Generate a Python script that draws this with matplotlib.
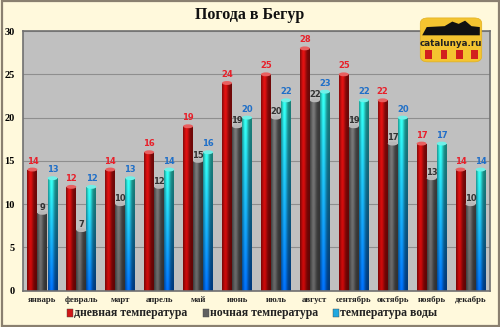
import numpy as np
import matplotlib
matplotlib.use("Agg")
import matplotlib.pyplot as plt
from matplotlib.patches import Rectangle, FancyBboxPatch, Ellipse, Polygon

months = ["январь", "февраль", "март", "апрель", "май", "июнь", "июль",
          "август", "сентябрь", "октябрь", "ноябрь", "декабрь"]
day_temp = [14, 12, 14, 16, 19, 24, 25, 28, 25, 22, 17, 14]
night_temp = [9, 7, 10, 12, 15, 19, 20, 22, 19, 17, 13, 10]
water_temp = [13, 12, 13, 14, 16, 20, 22, 23, 22, 20, 17, 14]
series_names = ["дневная температура", "ночная температура", "температура воды"]
title = "Погода в Бегур"

SERIF = ["Liberation Serif", "DejaVu Serif"]
BG = "#FFF9DC"

fig = plt.figure(figsize=(5.0, 3.27), dpi=100, facecolor=BG)
# outer frame
fig.patches.append(Rectangle((0.003, 0.004), 0.994, 0.992, transform=fig.transFigure,
                             fill=False, ec="#8A8070", lw=1.6))

ax = fig.add_axes([0.046, 0.111, 0.934, 0.794])
ax.set_facecolor("#C0C0C0")
ax.set_ylim(0, 30)
ax.set_xlim(-0.5, 11.5)
ax.set_yticks(range(0, 31, 5))
ax.yaxis.grid(True, color="#8E8E8E", lw=0.8)
ax.set_axisbelow(True)
for s in ax.spines.values():
    s.set_color("#707070")
    s.set_linewidth(1.2)
ax.tick_params(length=0, pad=4)
ax.set_xticks(range(12))
ax.set_xticklabels(months, fontsize=6.3, fontweight="bold", family=SERIF, color="#222222")
for t in ax.get_yticklabels():
    t.set_fontsize(7.5); t.set_fontweight("bold"); t.set_family(SERIF)
ax.tick_params(axis="y", pad=6)

bw = 0.255
offsets = [-0.258, 0.0, 0.258]
x = np.arange(12)

def shade_profile(n=40):
    u = np.linspace(0, 1, n)
    # cylindrical lighting: bright just left of center, dark edges
    return 0.55 + 0.6 * np.exp(-((u - 0.35) / 0.28) ** 2)

def draw_bar(xc, h, top_rgb, bot_rgb, cap_rgb):
    x0 = xc - bw / 2
    rect = Rectangle((x0, 0), bw, h, fc="none", ec="none")
    ax.add_patch(rect)
    ny, nx = 60, 40
    t = np.linspace(1, 0, ny)[:, None, None]
    col = t * np.array(top_rgb) + (1 - t) * np.array(bot_rgb)
    prof = shade_profile(nx)[None, :, None]
    img = np.clip(col * prof, 0, 1)
    im = ax.imshow(img, extent=(x0, x0 + bw, 0, h), aspect="auto",
                   interpolation="bilinear", zorder=2)
    im.set_clip_path(rect)
    cap = Ellipse((xc, h), bw, 0.45, fc=cap_rgb, ec="none", zorder=3)
    ax.add_patch(cap)

def hx(c):
    c = c.lstrip("#")
    return [int(c[i:i + 2], 16) / 255 for i in (0, 2, 4)]

for i in range(12):
    draw_bar(x[i] + offsets[0], day_temp[i], hx("#C81010"), hx("#B00808"), hx("#E86060"))
    draw_bar(x[i] + offsets[1], night_temp[i], hx("#6A6A6A"), hx("#5A5A5A"), hx("#B8B8B8"))
    draw_bar(x[i] + offsets[2], water_temp[i], hx("#30E8D8"), hx("#0064E0"), hx("#70F0E8"))
    ax.text(x[i] + offsets[0], day_temp[i] + 0.45, str(day_temp[i]), ha="center", va="bottom",
            fontsize=6, fontweight="bold", color="#E8202A", zorder=5)
    ax.text(x[i] + offsets[1], night_temp[i] + 0.15, str(night_temp[i]), ha="center", va="bottom",
            fontsize=6, fontweight="bold", color="#333333", zorder=5)
    ax.text(x[i] + offsets[2], water_temp[i] + 0.45, str(water_temp[i]), ha="center", va="bottom",
            fontsize=6, fontweight="bold", color="#1F6FC8", zorder=5)

fig.text(0.5, 0.953, title, ha="center", va="center", fontsize=11.5,
         fontweight="bold", family=SERIF, color="#111111")

# legend
leg_y = 0.043
items = [(0.134, "#D01818"), (0.406, "#606060"), (0.666, "#20A8E0")]
for (lx, c), name in zip(items, series_names):
    fig.patches.append(Rectangle((lx, leg_y - 0.012), 0.012, 0.024, transform=fig.transFigure,
                                 fc=c, ec="#444444", lw=0.3))
    fig.text(lx + 0.014, leg_y, name, ha="left", va="center", fontsize=8.5,
             fontweight="bold", family=SERIF, color="#222222")

# catalunya.ru badge
lax = fig.add_axes([0.838, 0.808, 0.128, 0.14])
lax.set_xlim(0, 1); lax.set_ylim(0, 1); lax.axis("off")
lax.add_patch(FancyBboxPatch((0.02, 0.02), 0.96, 0.96, boxstyle="round,pad=0,rounding_size=0.12",
                             fc="#F4C430", ec="#E0B020", lw=0.5))
lax.add_patch(Polygon([(0.05, 0.6), (0.12, 0.78), (0.4, 0.8), (0.52, 0.9), (0.62, 0.85),
                       (0.72, 0.92), (0.82, 0.8), (0.95, 0.78), (0.95, 0.6)],
                      closed=True, fc="#111111", ec="none"))
lax.text(0.5, 0.43, "catalunya.ru", ha="center", va="center", fontsize=6.3,
         fontweight="bold", color="#222222", family="DejaVu Sans")
for sx in (0.1, 0.34, 0.58, 0.82):
    lax.add_patch(Rectangle((sx, 0.08), 0.1, 0.2, fc="#D21E1E", ec="none"))

fig.savefig("out.png", dpi=100, facecolor=BG)
